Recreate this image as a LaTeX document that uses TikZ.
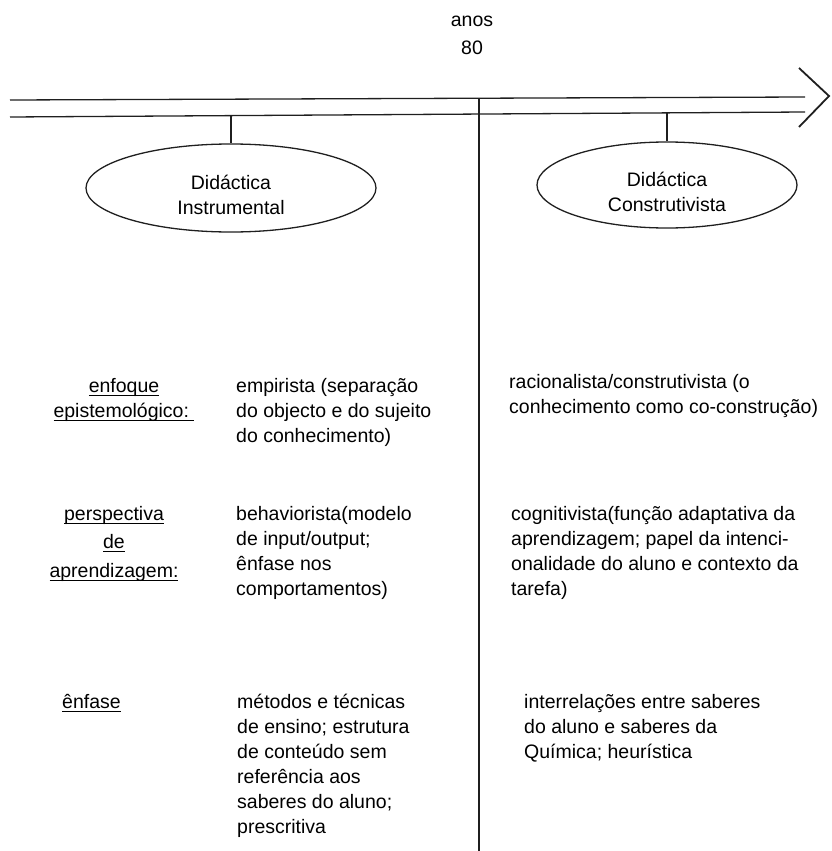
\documentclass[tikz,border=0pt]{standalone}
\usepackage{fontspec}
\setmainfont{Liberation Sans}
\usetikzlibrary{shapes.geometric}
\newcommand\ulin[1]{\setbox0=\hbox{#1}\rlap{\rule[-3.5pt]{\wd0}{1.1pt}}\box0}
\begin{document}
\begin{tikzpicture}[x=1pt,y=-1pt,
  line/.style={line width=1.3pt,draw=black!88},
  txt/.style={inner sep=0pt,align=left,anchor=north west,text=black,
    font=\fontsize{19.5}{25}\selectfont},
  lbl/.style={inner sep=0pt,align=center,anchor=north,text=black},
  ell/.style={ellipse,draw=black!88,line width=1.3pt,inner sep=0pt,align=center,
    text=black,font=\fontsize{19.5}{25}\selectfont}]
\useasboundingbox (0,0) rectangle (831,851);

% title
\node[lbl,font=\fontsize{19.5}{28}\selectfont] (anos) at (472,6.4) {\strut anos\\80};

% time axis
\coordinate (t0) at (10,100);
\coordinate (t1) at (805,97);
\coordinate (b0) at (10,117);
\coordinate (b1) at (805,112);
\draw[line] (t0) -- (t1);
\draw[line] (b0) -- (b1);
\coordinate (c1) at (799,68);
\coordinate (c2) at (829,96);
\coordinate (c3) at (799,127);
\draw[line width=1.8pt,draw=black!88,line join=miter] (c1) -- (c2) -- (c3);

% divider
\coordinate (v0) at (479,98.2);
\coordinate (v1) at (479,851);
\draw[line] (v0) -- (v1);

% ellipses
\node[ell,minimum width=290pt,minimum height=88pt] (instr) at (231,188)
  {\rule{0pt}{28pt}Didáctica\\Instrumental};
\node[ell,minimum width=260pt,minimum height=86pt] (constr) at (667,185)
  {\rule{0pt}{28pt}Didáctica\\Construtivista};
\coordinate (sL) at (231,115.6);
\coordinate (sR) at (667,112.9);
\draw[line] (sL) -- (instr.north);
\draw[line] (sR) -- (constr.north);

% row labels
\node[lbl,font=\fontsize{19.5}{25}\selectfont] (l1) at (124,374.5)
  {\strut\ulin{enfoque}\\\ulin{epistemológico:\ }};
\node[lbl,font=\fontsize{19.5}{28.5}\selectfont] (l2) at (114,500)
  {\strut\ulin{perspectiva}\\\ulin{de}\\\ulin{aprendizagem:}};
\node[txt] (l3) at (62,690.5) {\strut\ulin{ênfase}};

% middle column
\node[txt] (m1) at (236,374.5)
  {\strut empirista (separação\\do objecto e do sujeito\\do conhecimento)};
\node[txt] (m2) at (236,502.5)
  {\strut behaviorista(modelo\\de input/output;\\ênfase nos\\comportamentos)};
\node[txt] (m3) at (237,690.5)
  {\strut métodos e técnicas\\de ensino; estrutura\\de conteúdo sem\\referência aos\\saberes do aluno;\\prescritiva};

% right column
\node[txt] (r1) at (509,370.5)
  {\strut racionalista/construtivista (o\\conhecimento como co-construção)};
\node[txt] (r2) at (511,502.5)
  {\strut cognitivista(função adaptativa da\\aprendizagem; papel da intenci-\\onalidade do aluno e contexto da\\tarefa)};
\node[txt] (r3) at (524,690.5)
  {\strut interrelações entre saberes\\do aluno e saberes da\\Química; heurística};
\end{tikzpicture}
\end{document}
